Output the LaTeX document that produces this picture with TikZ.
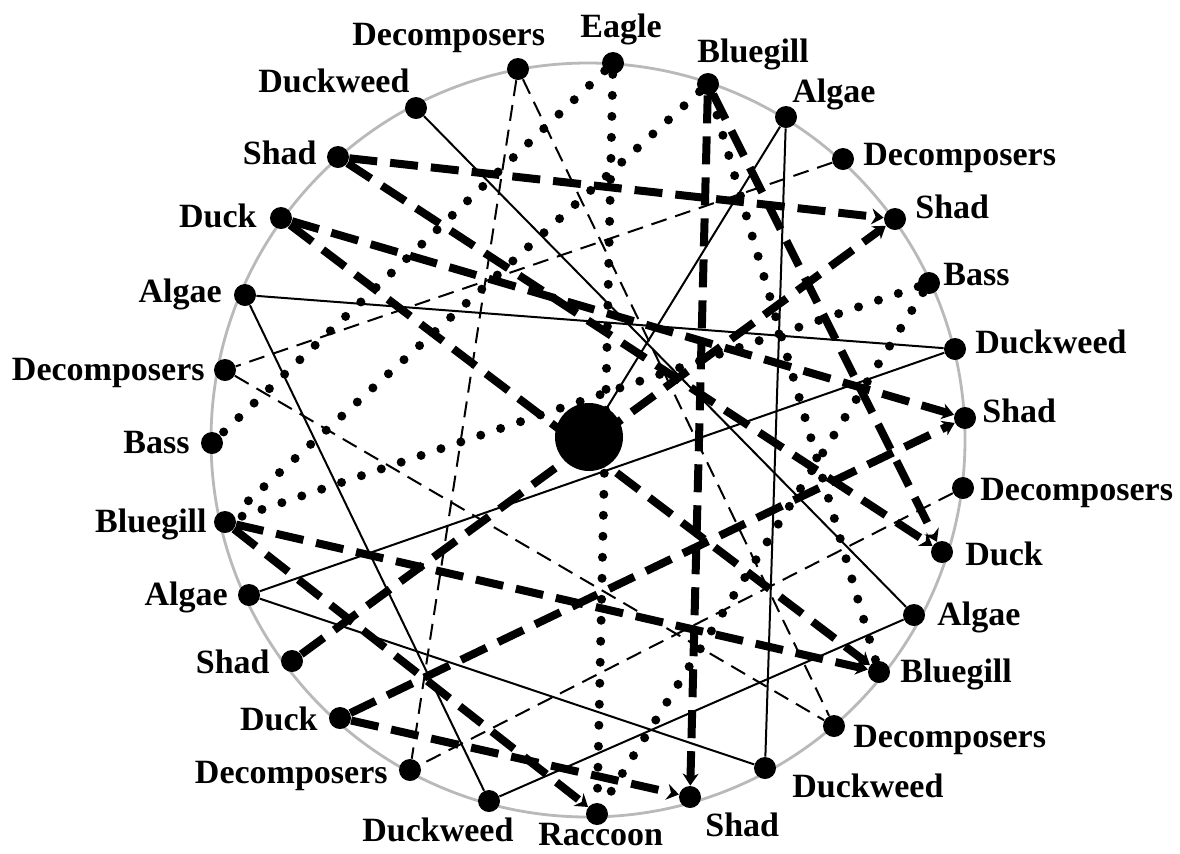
\documentclass[tikz,border=0pt]{standalone}
\usepackage{fontspec}
\setmainfont{Liberation Serif}
\usetikzlibrary{arrows.meta}
\tikzset{
  dot/.style={circle, fill=black, inner sep=0pt, minimum size=11pt},
  hubdot/.style={circle, fill=black, inner sep=0pt, minimum size=34pt},
  lbl/.style={font=\fontsize{17}{20}\selectfont\bfseries, inner sep=0pt},
  ring/.style={draw=gray!55, line width=1.4pt},
  solidedge/.style={line width=1pt},
  thindash/.style={line width=1pt, dash pattern=on 8pt off 4.5pt},
  dotedge/.style={line width=4.5pt, line cap=round, dash pattern=on 0pt off 10.5pt},
  heavydash/.style={line width=4pt, dash pattern=on 14pt off 6.5pt, -{Stealth[length=6pt,width=8pt]}},
}
\begin{document}
\begin{tikzpicture}[x=0.5pt,y=-0.5pt]
\useasboundingbox (0,0) rectangle (1180,853);
\draw[ring] (588,440) circle[radius=188.5pt];

% nodes (dots)
\node[dot] (eagle)  at (613,63) {};
\node[dot] (decT)   at (518,69) {};
\node[dot] (dwTL)   at (416,108) {};
\node[dot] (shadTL) at (338,157) {};
\node[dot] (duckL)  at (281,218) {};
\node[dot] (algL1)  at (245,295) {};
\node[dot] (decL)   at (225,370) {};
\node[dot] (bassL)  at (212,443) {};
\node[dot] (bgL)    at (225,522) {};
\node[dot] (algL2)  at (249,595) {};
\node[dot] (shadL)  at (292,661) {};
\node[dot] (duckL2) at (340,718) {};
\node[dot] (decBL)  at (410,770) {};
\node[dot] (dwBL)   at (489,801) {};
\node[dot] (racc)   at (597,814) {};
\node[dot] (shadB)  at (690,797) {};
\node[dot] (dwB)    at (765,768) {};
\node[dot] (decBR)  at (834,726) {};
\node[dot] (bgR)    at (879,672) {};
\node[dot] (algR)   at (914,615) {};
\node[dot] (duckR)  at (942,552) {};
\node[dot] (decR)   at (963,488) {};
\node[dot] (shadR2) at (965,418) {};
\node[dot] (dwR)    at (955,349) {};
\node[dot] (bassR)  at (929,283) {};
\node[dot] (shadR1) at (895,219) {};
\node[dot] (decTR)  at (843,159) {};
\node[dot] (algT)   at (786,117) {};
\node[dot] (bgT)    at (708,84) {};
\node[hubdot] (hub) at (589,437) {};

% thin solid
\draw[solidedge] (dwTL) -- (algR);
\draw[solidedge] (algT) -- (dwB);
\draw[solidedge] (algT) -- (hub);
\draw[solidedge] (algL2) -- (dwR);
\draw[solidedge] (algL2) -- (dwB);
\draw[solidedge] (algL1) -- (dwR);
\draw[solidedge] (algL1) -- (dwBL);
\draw[solidedge] (dwBL) -- (algR);

% thin dashed
\draw[thindash] (decT) -- (decBL);
\draw[thindash] (decT) -- (decBR);
\draw[thindash] (decTR) -- (decL);
\draw[thindash] (decL) -- (decBR);
\draw[thindash] (decR) -- (decBL);

% dotted
\draw[dotedge] (eagle) -- (racc);
\draw[dotedge] (eagle) -- (bassL);
\draw[dotedge] (bgT) -- (bgL);
\draw[dotedge] (bassR) -- (bgL);
\draw[dotedge] (bassR) -- (racc);
\draw[dotedge] (bgT) -- (bgR);

% heavy dashed
\draw[heavydash] (shadTL) -- (shadR1);
\draw[heavydash] (shadTL) -- (duckR);
\draw[heavydash] (bgT) -- (duckR);
\draw[heavydash] (bgT) -- (shadB);
\draw[heavydash] (duckL) -- (shadR2);
\draw[heavydash] (duckL) -- (bgR);
\draw[heavydash] (shadL) -- (shadR1);
\draw[heavydash] (duckL2) -- (shadR2);
\draw[heavydash] (bgL) -- (bgR);
\draw[heavydash] (bgL) -- (racc);
\draw[heavydash] (duckL2) -- (shadB);

% labels
\node[lbl, anchor=base west] (eagleL)  at (580,37) {Eagle};
\node[lbl, anchor=base west] (decTL)   at (352,45) {Decomposers};
\node[lbl, anchor=base west] (dwTLL)   at (258,92) {Duckweed};
\node[lbl, anchor=base east] (shadTLL) at (317,164) {Shad};
\node[lbl, anchor=base east] (duckLL)  at (257,227) {Duck};
\node[lbl, anchor=base east] (algL1L)  at (222,302) {Algae};
\node[lbl, anchor=base east] (decLL)   at (205,380) {Decomposers};
\node[lbl, anchor=base east] (bassLL)  at (190,453) {Bass};
\node[lbl, anchor=base east] (bgLL)    at (207,532) {Bluegill};
\node[lbl, anchor=base east] (algL2L)  at (228,605) {Algae};
\node[lbl, anchor=base east] (shadLL)  at (270,673) {Shad};
\node[lbl, anchor=base east] (duckL2L) at (318,730) {Duck};
\node[lbl, anchor=base east] (decBLL)  at (388,783) {Decomposers};
\node[lbl, anchor=base west] (dwBLL)   at (362,841) {Duckweed};
\node[lbl, anchor=base west] (raccL)   at (538,845) {Raccoon};
\node[lbl, anchor=base west] (shadBL)  at (705,836) {Shad};
\node[lbl, anchor=base west] (dwBL2)   at (792,797) {Duckweed};
\node[lbl, anchor=base west] (decBRL)  at (853,747) {Decomposers};
\node[lbl, anchor=base west] (bgRL)    at (900,682) {Bluegill};
\node[lbl, anchor=base west] (algRL)   at (937,625) {Algae};
\node[lbl, anchor=base west] (duckRL)  at (965,565) {Duck};
\node[lbl, anchor=base west] (decRL)   at (980,500) {Decomposers};
\node[lbl, anchor=base west] (shadR2L) at (982,422) {Shad};
\node[lbl, anchor=base west] (dwRL)    at (975,353) {Duckweed};
\node[lbl, anchor=base west] (bassRL)  at (943,285) {Bass};
\node[lbl, anchor=base west] (shadR1L) at (915,218) {Shad};
\node[lbl, anchor=base west] (decTRL)  at (863,165) {Decomposers};
\node[lbl, anchor=base west] (algTL)   at (792,102) {Algae};
\node[lbl, anchor=base west] (bgTL)    at (697,62) {Bluegill};
\end{tikzpicture}
\end{document}
